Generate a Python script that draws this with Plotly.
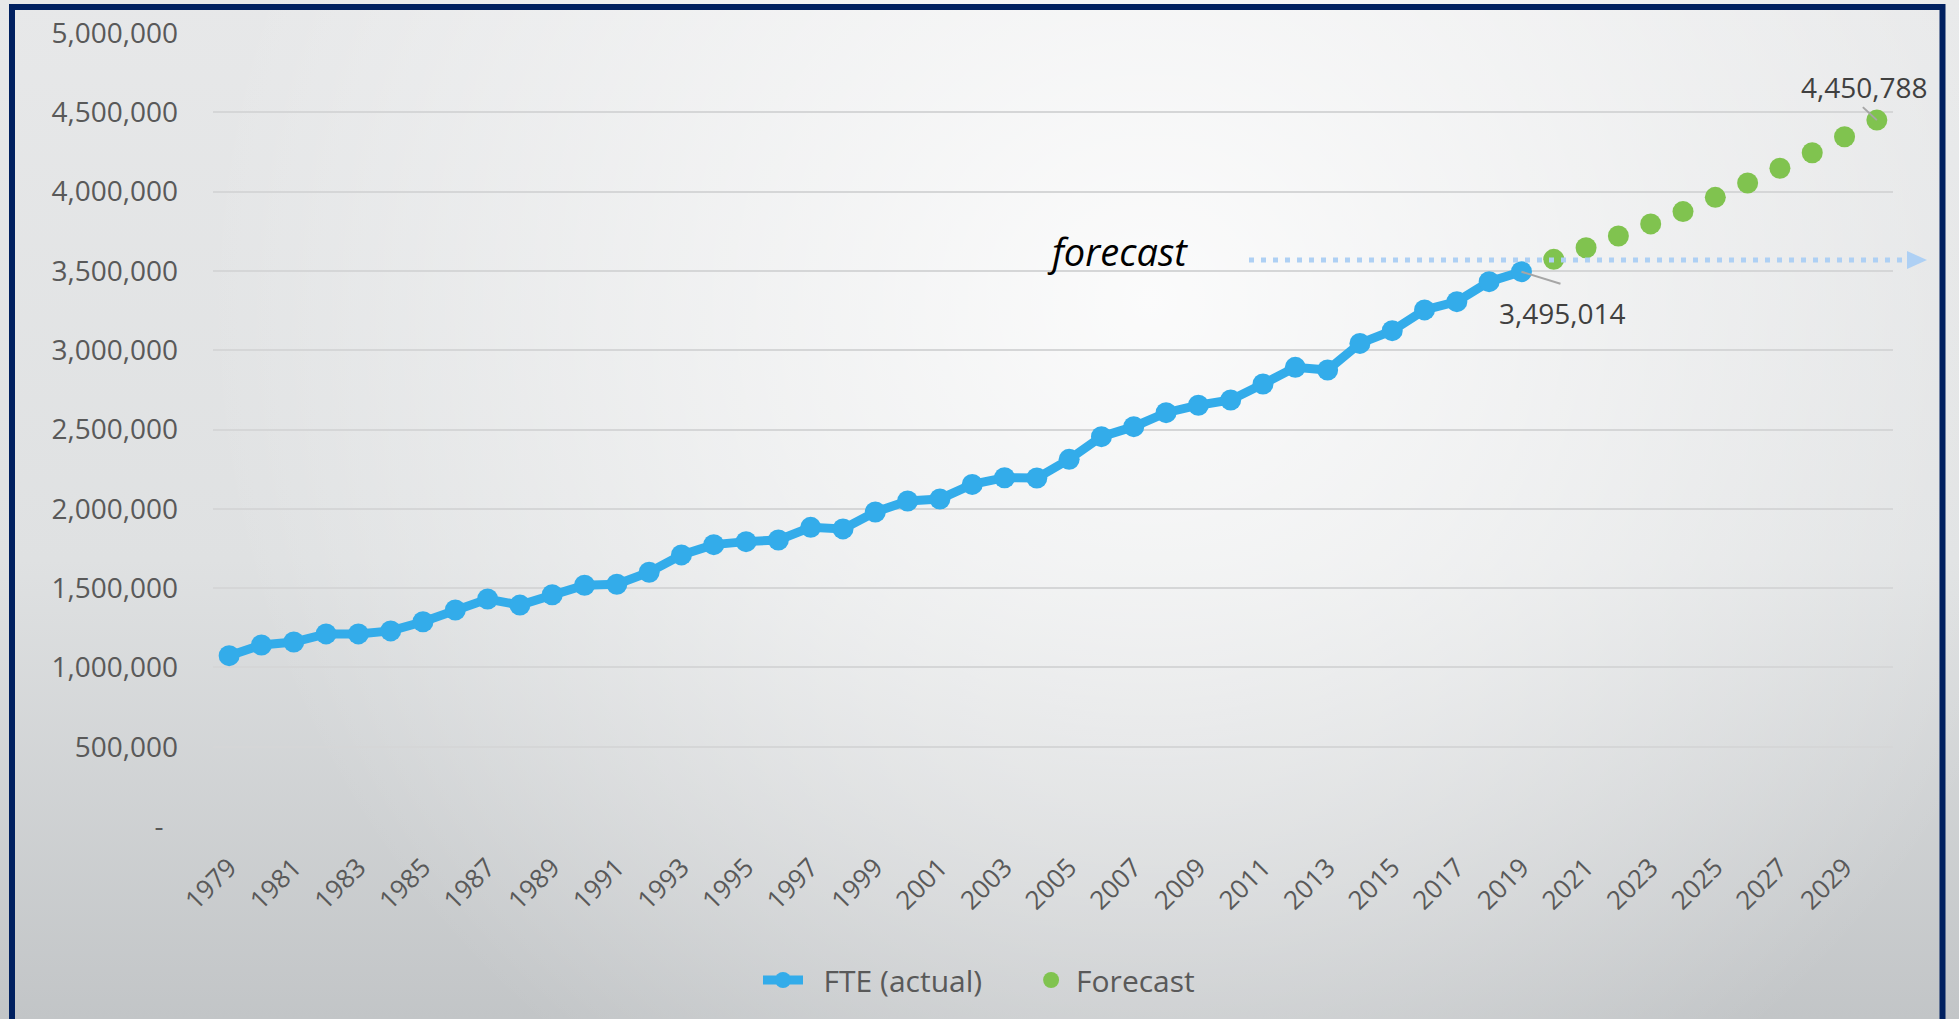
import base64
import plotly.graph_objects as go

# ---------------- data ----------------
years_actual = [str(y) for y in range(1979, 2020)]
fte_actual = [1074000, 1141000, 1160000, 1211000, 1211000, 1230000, 1288000, 1362000,
              1431000, 1393000, 1458000, 1518000, 1524000, 1600000, 1709000, 1774000,
              1793000, 1803000, 1883000, 1873000, 1980000, 2049000, 2062000, 2154000,
              2196000, 2194000, 2312000, 2455000, 2518000, 2606000, 2653000, 2686000,
              2787000, 2892000, 2875000, 3043000, 3123000, 3254000, 3306000, 3432000,
              3495014]
years_forecast = [str(y) for y in range(2020, 2031)]
fte_forecast = [3573000, 3646000, 3720000, 3796000, 3874000, 3964000, 4054000,
                4147000, 4245000, 4346000, 4450788]
categories = years_actual + years_forecast
x_tickvals = [str(y) for y in range(1979, 2031, 2)]
y_tickvals = [0, 500000, 1000000, 1500000, 2000000, 2500000, 3000000, 3500000,
              4000000, 4500000, 5000000]
y_ticktext = ["-\u00a0\u00a0", "500,000", "1,000,000", "1,500,000", "2,000,000",
              "2,500,000", "3,000,000", "3,500,000", "4,000,000", "4,500,000",
              "5,000,000"]
label_actual = "3,495,014"
label_forecast = "4,450,788"

# ---------------- layout geometry (pixels) ----------------
W, H = 1959, 1019
L, R, T, B = 213, 66, 33, 193
PW, PH = W - L - R, H - T - B


def px(xp):
    return (xp - L) / PW


def py(yp):
    return (H - B - yp) / PH


FONT = "Open Sans"
BLUE = "#33acea"
GREEN = "#80c34f"
DOT = "#aed0f4"
TICK = "#595959"

# background gradient as svg
svg = f'''<svg xmlns="http://www.w3.org/2000/svg" width="{W}" height="{H}" viewBox="0 0 {W} {H}">
<defs>
<linearGradient id="lg" x1="0" y1="0" x2="0" y2="1">
<stop offset="0" stop-color="#e7e8e9"/>
<stop offset="0.55" stop-color="#dfe1e2"/>
<stop offset="1" stop-color="#c2c5c7"/>
</linearGradient>
<radialGradient id="rg" gradientUnits="userSpaceOnUse" cx="1150" cy="300" r="950">
<stop offset="0" stop-color="#ffffff" stop-opacity="0.85"/>
<stop offset="0.5" stop-color="#ffffff" stop-opacity="0.45"/>
<stop offset="1" stop-color="#ffffff" stop-opacity="0"/>
</radialGradient>
</defs>
<rect width="{W}" height="{H}" fill="url(#lg)"/>
<rect width="{W}" height="{H}" fill="url(#rg)"/>
</svg>'''
bg_uri = "data:image/svg+xml;base64," + base64.b64encode(svg.encode()).decode()

fig = go.Figure()
fig.add_trace(go.Scatter(
    x=years_actual, y=fte_actual,
    name="\u00a0" * 2 + "FTE (actual)" + "\u00a0" * 5, mode="lines+markers",
    line=dict(color=BLUE, width=9), marker=dict(color=BLUE, size=21),
))
fig.add_trace(go.Scatter(
    x=years_forecast, y=fte_forecast, name="Forecast", mode="markers",
    marker=dict(color=GREEN, size=21),
))

i_act = categories.index(years_actual[-1])
i_fc = categories.index(years_forecast[-1])

shapes = [
    # navy frame
    dict(type="rect", xref="paper", yref="paper", x0=px(12), x1=px(1942.5),
         y0=py(1045), y1=py(7), line=dict(color="#002060", width=6)),
    # dotted forecast arrow
    dict(type="line", xref="paper", yref="paper", x0=px(1249), x1=px(1907),
         y0=py(260), y1=py(260), line=dict(color=DOT, width=5, dash="5px,7px")),
    dict(type="path", xref="paper", yref="paper",
         path=f"M {px(1907)} {py(251)} L {px(1927)} {py(260)} L {px(1907)} {py(269)} Z",
         fillcolor=DOT, line=dict(width=0)),
    # leader lines
    dict(type="line", xref="x", yref="y", xsizemode="pixel", ysizemode="pixel",
         xanchor=i_act, yanchor=fte_actual[-1], x0=0, x1=39, y0=0, y1=-12,
         line=dict(color="#a6a6a6", width=2)),
    dict(type="line", xref="x", yref="y", xsizemode="pixel", ysizemode="pixel",
         xanchor=i_fc, yanchor=fte_forecast[-1], x0=0, x1=-14, y0=0, y1=13,
         line=dict(color="#a6a6a6", width=2)),
]

annotations = [
    dict(x=i_act, y=fte_actual[-1], xref="x", yref="y", text=label_actual,
         showarrow=False, xshift=41, yshift=-41,
         font=dict(family=FONT, size=28, color="#404040")),
    dict(x=i_fc, y=fte_forecast[-1], xref="x", yref="y", text=label_forecast,
         showarrow=False, xshift=-12, yshift=33,
         font=dict(family=FONT, size=28, color="#404040")),
    dict(x=px(1117), y=py(251), xref="paper", yref="paper", text="<i>forecast</i>",
         xanchor="center", yanchor="middle",
         showarrow=False, font=dict(family=FONT, size=38, color="#000000")),
]

fig.update_layout(
    width=W, height=H,
    margin=dict(l=L, r=R, t=T, b=B, pad=0),
    paper_bgcolor="#dcdedf", plot_bgcolor="rgba(0,0,0,0)",
    font=dict(family=FONT, color=TICK),
    images=[dict(source=bg_uri, xref="paper", yref="paper", x=px(0), y=py(0),
                 sizex=W / PW, sizey=H / PH, sizing="stretch", layer="below",
                 xanchor="left", yanchor="top")],
    shapes=shapes, annotations=annotations,
    showlegend=True,
    legend=dict(orientation="h", x=px(979), xanchor="center", y=py(980), yanchor="middle",
                font=dict(family=FONT, size=30, color=TICK), bgcolor="rgba(0,0,0,0)",
                itemwidth=40),
    xaxis=dict(type="category", categoryorder="array", categoryarray=categories,
               range=[-0.5, len(categories) - 0.5], tickmode="array",
               tickvals=x_tickvals, ticktext=x_tickvals, tickangle=-45,
               tickfont=dict(family=FONT, size=26, color=TICK), showgrid=False,
               zeroline=False, showline=False, ticks="", ticklabelstandoff=20),
    yaxis=dict(range=[0, 5000000], tickmode="array", tickvals=y_tickvals,
               ticktext=y_ticktext, tickfont=dict(family=FONT, size=28, color=TICK),
               gridcolor="#d5d6d7", gridwidth=2, zeroline=False, showline=False,
               ticks="", ticklabelstandoff=34),
)

fig.write_html("out.html")
